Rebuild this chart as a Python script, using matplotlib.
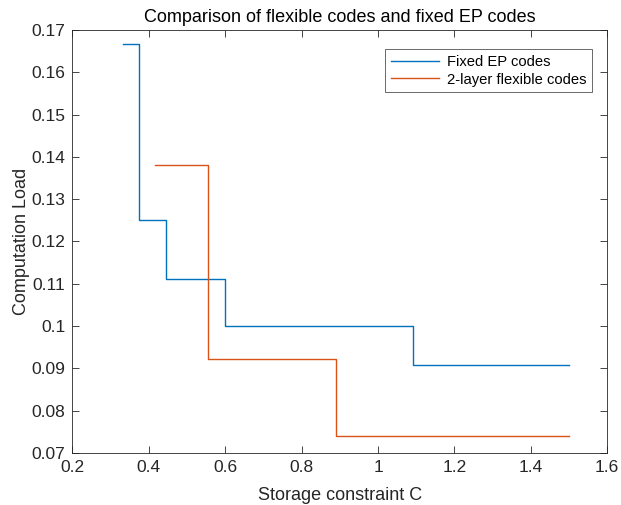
import matplotlib
matplotlib.use("Agg")
import matplotlib.pyplot as plt

plt.rcParams["font.family"] = ["Liberation Sans", "DejaVu Sans"]

# Fixed EP codes: storage constraint breakpoints and loads
fixed_c = [0.333, 0.375, 0.444, 0.6, 1.091, 1.5]
fixed_load = [0.1667, 0.125, 0.1111, 0.1, 0.0909, 0.0909]

# 2-layer flexible codes
flex_c = [0.417, 0.556, 0.889, 1.5]
flex_load = [0.138, 0.0922, 0.074, 0.074]

x_ticks = [0.2, 0.4, 0.6, 0.8, 1.0, 1.2, 1.4, 1.6]
x_labels = ["0.2", "0.4", "0.6", "0.8", "1", "1.2", "1.4", "1.6"]
y_ticks = [0.07, 0.08, 0.09, 0.1, 0.11, 0.12, 0.13, 0.14, 0.15, 0.16, 0.17]
y_labels = ["0.07", "0.08", "0.09", "0.1", "0.11", "0.12", "0.13", "0.14", "0.15", "0.16", "0.17"]

blue = "#0072BD"
orange = "#D95319"
dark = "#262626"

fig = plt.figure(figsize=(6.21, 5.05), dpi=100)
ax = fig.add_axes([0.1167, 0.103, 0.861, 0.8376])

ax.plot(fixed_c, fixed_load, drawstyle="steps-post", color=blue, lw=1.0, label="Fixed EP codes")
ax.plot(flex_c, flex_load, drawstyle="steps-post", color=orange, lw=1.0, label="2-layer flexible codes")

ax.set_xlim(0.2, 1.6)
ax.set_ylim(0.07, 0.17)
ax.set_xticks(x_ticks)
ax.set_xticklabels(x_labels)
ax.set_yticks(y_ticks)
ax.set_yticklabels(y_labels)
ax.tick_params(direction="in", top=True, right=True, labelsize=12.5, colors=dark,
               length=5, width=0.6, pad=5)
for s in ax.spines.values():
    s.set_color(dark)
    s.set_linewidth(0.6)

ax.set_xlabel("Storage constraint C", fontsize=13, color=dark, labelpad=9)
ax.set_ylabel("Computation Load", fontsize=13, color=dark, labelpad=1)
ax.set_title("Comparison of flexible codes and fixed EP codes", fontsize=13, color="black", pad=6)

leg = ax.legend(loc="upper right", bbox_to_anchor=(0.972, 0.955), fontsize=10.6, frameon=True,
                fancybox=False, edgecolor=dark, handlelength=3.3, borderpad=0.4,
                labelspacing=0.25, handletextpad=0.5, borderaxespad=0)
leg.get_frame().set_linewidth(0.6)

fig.savefig("out.png", dpi=100)
